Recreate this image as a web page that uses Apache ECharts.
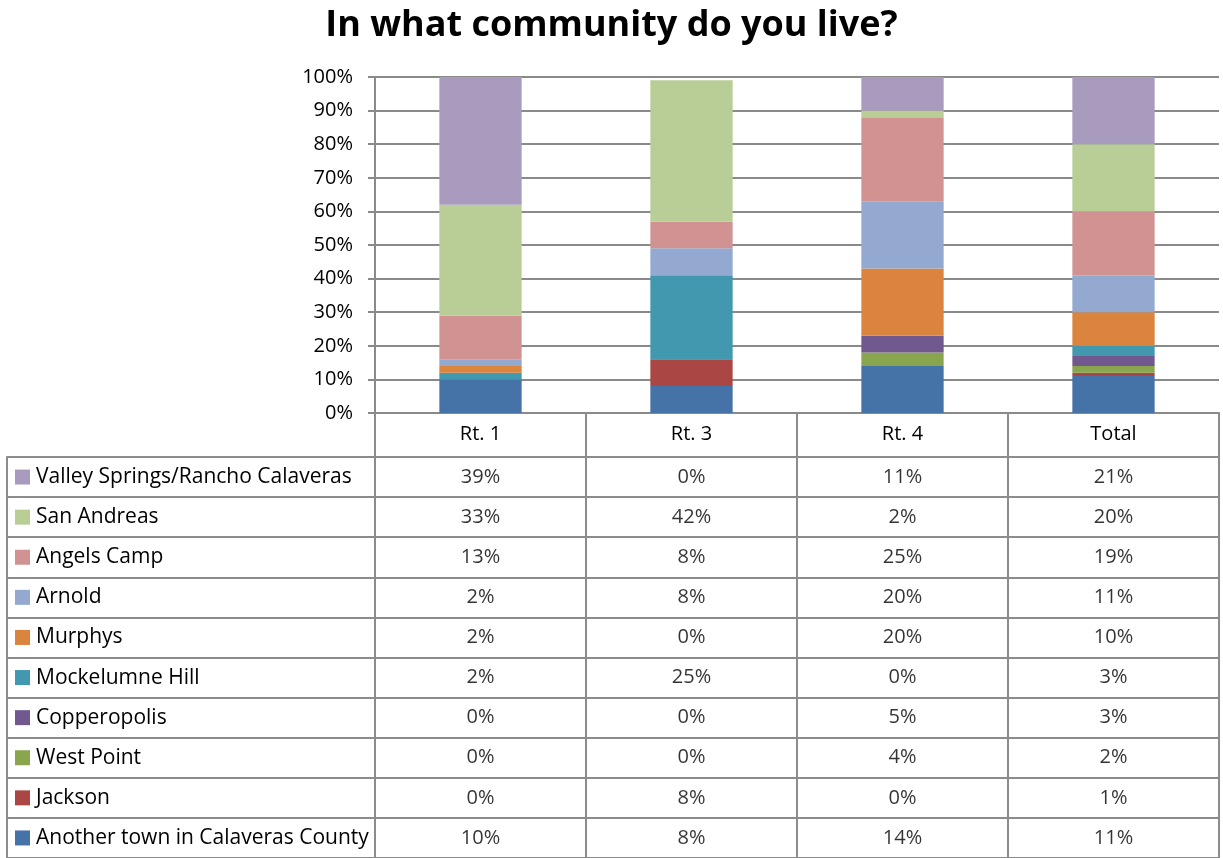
<!DOCTYPE html>
<html>
<head>
<meta charset="utf-8">
<title>In what community do you live?</title>
<script src="https://cdn.jsdelivr.net/npm/echarts@6/dist/echarts.min.js"></script>
<style>
  html, body { margin: 0; padding: 0; background: #fff; }
  #chart { width: 1223px; height: 858px; }
</style>
</head>
<body>
<div id="chart"></div>
<script>
// Survey routes (columns) and percentage share per community
const categories = ['Rt. 1', 'Rt. 3', 'Rt. 4', 'Total'];

const valleySprings = [39, 0, 11, 21];
const sanAndreas    = [33, 42, 2, 20];
const angelsCamp    = [13, 8, 25, 19];
const arnold        = [2, 8, 20, 11];
const murphys       = [2, 0, 20, 10];
const mokelumneHill = [2, 25, 0, 3];
const copperopolis  = [0, 0, 5, 3];
const westPoint     = [0, 0, 4, 2];
const jackson       = [0, 8, 0, 1];
const anotherTown   = [10, 8, 14, 11];

const yTicks = [0, 10, 20, 30, 40, 50, 60, 70, 80, 90, 100];

// Table order (top to bottom); the stack is drawn in reverse (bottom first)
const communities = [
  { name: 'Valley Springs/Rancho Calaveras', values: valleySprings, color: '#A99BBD' },
  { name: 'San Andreas',                     values: sanAndreas,    color: '#B9CD96' },
  { name: 'Angels Camp',                     values: angelsCamp,    color: '#D19392' },
  { name: 'Arnold',                          values: arnold,        color: '#93A9CF' },
  { name: 'Murphys',                         values: murphys,       color: '#DB843D' },
  { name: 'Mockelumne Hill',                 values: mokelumneHill, color: '#4198AF' },
  { name: 'Copperopolis',                    values: copperopolis,  color: '#71588F' },
  { name: 'West Point',                      values: westPoint,     color: '#89A54E' },
  { name: 'Jackson',                         values: jackson,       color: '#AA4643' },
  { name: 'Another town in Calaveras County', values: anotherTown,  color: '#4572A7' }
];

const FONT = '"Open Sans", Lato, sans-serif';
const GRID_COLOR = '#8a8a8a';
const TABLE_LINE = { color: '#8c8c8c', width: 2 };

const chart = echarts.init(document.getElementById('chart'), null, { renderer: 'canvas' });

// Stacked bars, bottom segment first
const barSeries = communities.slice().reverse().map(c => ({
  name: c.name,
  type: 'bar',
  stack: 'share',
  xAxisIndex: 0,
  yAxisIndex: 0,
  barWidth: '39%',
  clip: true,
  itemStyle: { color: c.color },
  emphasis: { disabled: true },
  data: c.values
}));

// Data-table cells: one invisible point per (route, community) carrying its label
const cellData = [];
communities.forEach((c, r) => {
  c.values.forEach((v, ci) => cellData.push([ci, r, v]));
});

const richSquares = {};
communities.forEach((c, i) => {
  richSquares['s' + i] = { width: 15, height: 15, lineHeight: 15, backgroundColor: c.color };
});
richSquares.t = { fontFamily: FONT, fontSize: 21, color: '#000', padding: [0, 0, 0, 6] };

const option = {
  animation: false,
  backgroundColor: '#fff',
  title: {
    text: 'In what community do you live?',
    left: 'center',
    top: 3,
    textStyle: { fontFamily: FONT, fontSize: 36, fontWeight: 'bold', color: '#000' }
  },
  grid: [
    { left: 375, right: 4, top: 77, height: 336 },
    { left: 375, right: 4, top: 457, height: 401 }
  ],
  xAxis: [
    {
      gridIndex: 0,
      type: 'category',
      data: categories,
      axisLine: { show: true, lineStyle: { color: GRID_COLOR, width: 2 } },
      axisTick: { show: true, alignWithLabel: false, length: 44, lineStyle: TABLE_LINE },
      axisLabel: { fontFamily: FONT, fontSize: 20, color: '#000', margin: 11 },
      splitLine: { show: false }
    },
    {
      gridIndex: 1,
      type: 'category',
      position: 'top',
      data: categories,
      axisLine: { show: true, lineStyle: TABLE_LINE },
      axisTick: { show: false },
      axisLabel: { show: false },
      splitLine: { show: true, lineStyle: TABLE_LINE }
    }
  ],
  yAxis: [
    {
      gridIndex: 0,
      type: 'value',
      min: yTicks[0],
      max: yTicks[yTicks.length - 1],
      interval: yTicks[1] - yTicks[0],
      axisLine: { show: true, lineStyle: { color: GRID_COLOR, width: 2 } },
      axisTick: { show: true, length: 7, lineStyle: { color: GRID_COLOR, width: 2 } },
      axisLabel: { fontFamily: FONT, fontSize: 20, color: '#000', margin: 22, formatter: '{value}%' },
      splitLine: { show: true, lineStyle: { color: GRID_COLOR, width: 2 } }
    },
    {
      gridIndex: 1,
      type: 'category',
      inverse: true,
      data: communities.map(c => c.name),
      axisLine: { show: true, lineStyle: TABLE_LINE },
      axisTick: { show: true, alignWithLabel: false, length: 368, lineStyle: TABLE_LINE },
      axisLabel: {
        align: 'left',
        margin: 360,
        formatter: (value, index) => '{s' + index + '|}{t|' + value + '}',
        rich: richSquares
      },
      splitLine: { show: true, lineStyle: TABLE_LINE }
    },
    {
      // outer left border of the legend column
      gridIndex: 1,
      type: 'category',
      position: 'left',
      offset: 368,
      data: communities.map(c => c.name),
      axisLine: { show: true, lineStyle: TABLE_LINE },
      axisTick: { show: false },
      axisLabel: { show: false },
      splitLine: { show: false }
    }
  ],
  series: barSeries.concat([
    {
      name: 'table',
      type: 'scatter',
      xAxisIndex: 1,
      yAxisIndex: 1,
      symbolSize: 1,
      itemStyle: { color: 'rgba(0,0,0,0)' },
      silent: true,
      label: {
        show: true,
        position: 'inside',
        fontFamily: FONT,
        fontSize: 20,
        color: '#000',
        formatter: p => p.value[2] + '%'
      },
      data: cellData
    }
  ])
};

chart.setOption(option);
</script>
</body>
</html>
